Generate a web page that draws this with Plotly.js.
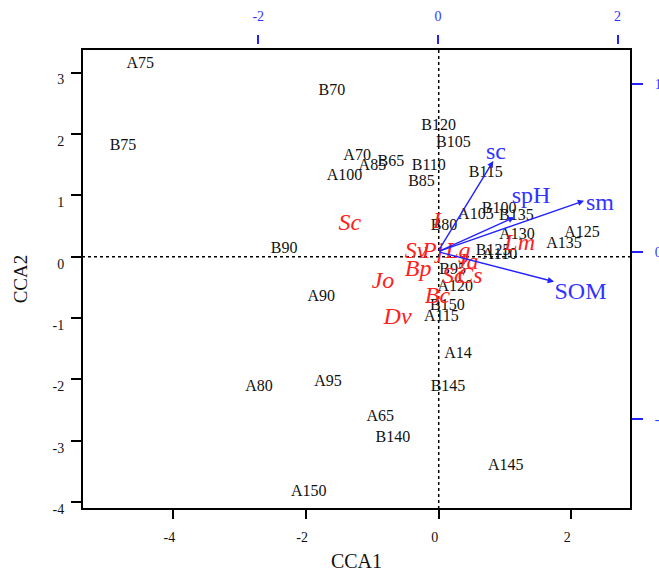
<!DOCTYPE html>
<html><head><meta charset="utf-8">
<script src="https://cdn.plot.ly/plotly-3.0.1.min.js"></script>
<style>html,body{margin:0;padding:0;background:#fff}</style>
</head><body><div id="chart" style="width:659px;height:572px"></div>
<script>
const sampleNames = ['A75','B70','B75','B120','B105','A70','B65','A85','B110','A100','B85','B115','B90','B80','A105','B100','B135','A130','A125','A135','B125','A110','B95','A120','B150','A115','A90','A14','A80','A95','B145','A65','B140','A145','A150'];
const sampleX = [-4.50,-1.61,-4.76,0.00,0.22,-1.23,-0.72,-1.00,-0.15,-1.42,-0.26,0.71,-2.33,0.08,0.56,0.91,1.17,1.18,2.16,1.89,0.82,0.92,0.21,0.25,0.13,0.04,-1.77,0.29,-2.71,-1.67,0.14,-0.88,-0.69,1.01,-1.96];
const sampleY = [3.14,2.70,1.80,2.13,1.86,1.64,1.55,1.47,1.48,1.31,1.22,1.36,0.13,0.50,0.68,0.78,0.67,0.35,0.38,0.21,0.10,0.03,-0.22,-0.50,-0.80,-0.98,-0.66,-1.59,-2.13,-2.04,-2.13,-2.62,-2.96,-3.41,-3.83];

const speciesNames = ['Sc','Sv','Pj','Lg','Ja','Bp','Sc','Cs','Jo','Bc','Dv','Lm','I'];
const speciesX = [-1.34,-0.34,-0.09,0.29,0.43,-0.31,0.22,0.47,-0.84,-0.02,-0.62,1.22,-0.03];
const speciesY = [0.54,0.08,0.08,0.08,-0.11,-0.22,-0.33,-0.33,-0.41,-0.65,-1.00,0.21,0.56];

const envNames = ['sc','spH','sm','SOM'];
const envArrowX = [0.617,0.851,1.627,1.293];
const envArrowY = [0.541,0.205,0.304,-0.179];
const envLabelX = [0.647,1.037,1.805,1.588];
const envLabelY = [0.587,0.325,0.285,-0.248];

const bottomTicks = [-4,-2,0,2];
const leftTicks = [-4,-3,-2,-1,0,1,2,3];
const topTicks = [-2,0,2];
const rightTicks = [-1,0,1];

const FONT = 'Liberation Serif, Times New Roman, serif';
const BLUE = '#2222ff';
const RED = '#ff2020';

const traces = [
  {x: sampleX, y: sampleY, text: sampleNames, mode: 'text', type: 'scatter',
   textposition: 'middle center', hoverinfo: 'skip',
   textfont: {family: FONT, size: 16, color: '#111'}, xaxis: 'x', yaxis: 'y'},
  {x: speciesX, y: speciesY, text: speciesNames, mode: 'text', type: 'scatter',
   textposition: 'middle center', hoverinfo: 'skip',
   textfont: {family: FONT, size: 24, color: RED, style: 'italic'}, xaxis: 'x', yaxis: 'y'},
  {x: envLabelX, y: envLabelY, text: envNames, mode: 'text', type: 'scatter',
   textposition: 'middle center', hoverinfo: 'skip',
   textfont: {family: FONT, size: 24, color: '#3333ff'}, xaxis: 'x2', yaxis: 'y2'}
];

const annotations = envNames.map((n, i) => ({
  x: envArrowX[i], y: envArrowY[i], xref: 'x2', yref: 'y2',
  ax: 0, ay: 0, axref: 'x2', ayref: 'y2',
  text: '', showarrow: true, arrowhead: 2, arrowsize: 0.9, arrowwidth: 1.4, arrowcolor: BLUE
}));

const ydom = [0, 460/465];
const layout = {
  width: 659, height: 572,
  margin: {l: 82, r: 28, t: 44, b: 63},
  paper_bgcolor: '#fff', plot_bgcolor: '#fff',
  showlegend: false,
  xaxis: {
    domain: [0, 1], range: [-5.378, 2.899], tickmode: 'array', tickvals: bottomTicks,
    ticktext: bottomTicks.map(String),
    ticks: 'outside', ticklen: 9, tickwidth: 2, tickcolor: '#000',
    showgrid: false, zeroline: false, showline: false,
    tickfont: {family: FONT, size: 14, color: '#111'}, ticklabelshift: -4, ticklabelstandoff: 6,
    title: {text: 'CCA1', font: {family: FONT, size: 20, color: '#111'}, standoff: 12}
  },
  yaxis: {
    domain: ydom, range: [-4.111, 3.384], tickmode: 'array', tickvals: leftTicks,
    ticktext: leftTicks.map(String),
    ticks: 'outside', ticklen: 10, tickwidth: 2, tickcolor: '#000',
    showgrid: false, zeroline: false, showline: false,
    tickfont: {family: FONT, size: 14, color: '#111'}, ticklabelshift: 7, ticklabelstandoff: 4,
    title: {text: 'CCA2', font: {family: FONT, size: 19, color: '#111'}, standoff: 19}
  },
  xaxis2: {
    overlaying: 'x', side: 'top', anchor: 'free', position: 1,
    range: [-3.963, 2.150], tickmode: 'array', tickvals: topTicks, ticktext: topTicks.map(String),
    ticks: 'outside', ticklen: 9, tickwidth: 2, tickcolor: BLUE,
    showgrid: false, zeroline: false, showline: false,
    tickfont: {family: FONT, size: 14, color: '#3333ff'}, ticklabelstandoff: 8
  },
  yaxis2: {
    overlaying: 'y', side: 'right', anchor: 'x', domain: ydom,
    range: [-1.536, 1.210], tickmode: 'array', tickvals: rightTicks, ticktext: rightTicks.map(String),
    ticks: 'outside', ticklen: 11, tickwidth: 2, tickcolor: BLUE,
    showgrid: false, zeroline: false, showline: false,
    tickfont: {family: FONT, size: 14, color: '#3333ff'}, ticklabelstandoff: 9
  },
  shapes: [
    {type: 'line', xref: 'x', yref: 'y domain', x0: 0, x1: 0, y0: 0, y1: 1,
     line: {color: '#000', width: 1.5, dash: 'dot'}, layer: 'below'},
    {type: 'line', xref: 'x domain', yref: 'y', x0: 0, x1: 1, y0: 0, y1: 0,
     line: {color: '#000', width: 1.5, dash: 'dot'}, layer: 'below'},
    {type: 'rect', xref: 'x domain', yref: 'y domain', x0: 0, x1: 1, y0: 0, y1: 1,
     line: {color: '#000', width: 2}, fillcolor: 'rgba(0,0,0,0)', layer: 'above'}
  ],
  annotations: annotations
};

Plotly.newPlot('chart', traces, layout, {displayModeBar: false, staticPlot: true});
</script>
</body></html>
